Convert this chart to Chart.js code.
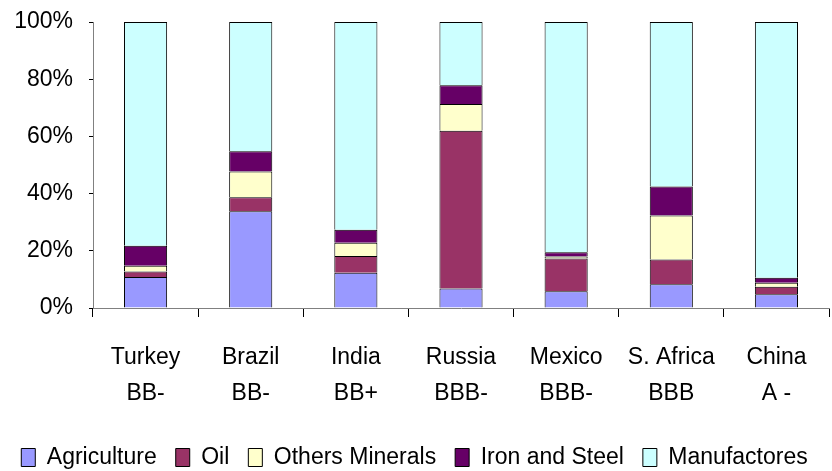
<!DOCTYPE html>
<html>
<head>
<meta charset="utf-8">
<script src="https://cdn.jsdelivr.net/npm/chart.js@4"></script>
<style>
  html, body { margin: 0; padding: 0; background: #fff; }
  #wrap { width: 832px; height: 471px; position: relative; }
</style>
</head>
<body>
<div id="wrap"><canvas id="chart-bars"></canvas></div>
<script>
const countries = [['Turkey', 'BB-'], ['Brazil', 'BB-'], ['India', 'BB+'], ['Russia', 'BBB-'], ['Mexico', 'BBB-'], ['S. Africa', 'BBB'], ['China', 'A -']];

const agriculture = [10.8, 33.8, 12.3, 6.8, 5.9, 8.3, 4.8];
const oil = [2.0, 4.9, 5.9, 55.2, 11.4, 8.7, 2.6];
const otherMinerals = [2.0, 9.0, 4.6, 9.3, 0.7, 15.3, 1.4];
const ironSteel = [7.0, 7.1, 4.6, 6.6, 1.5, 10.2, 1.8];
const manufactures = [78.2, 45.2, 72.6, 22.1, 80.5, 57.5, 89.4];

const yTicks = [0, 20, 40, 60, 80, 100];

const font = "'Liberation Sans', Arial, sans-serif";

document.addEventListener("DOMContentLoaded", function () {

  const ctx = document.getElementById('chart-bars');

  function series(label, data, color) {
    return {
      label: label,
      data: data,
      backgroundColor: color,
      borderColor: '#000000',
      borderWidth: 1,
      barPercentage: 0.41,
      categoryPercentage: 1
    };
  }

  new Chart(ctx, {
    type: 'bar',
    data: {
      labels: countries,
      datasets: [
        series('Agriculture', agriculture, '#9999ff'),
        series('Oil', oil, '#993366'),
        series('Others Minerals', otherMinerals, '#ffffcc'),
        series('Iron and Steel', ironSteel, '#660066'),
        series('Manufactores', manufactures, '#ccffff')
      ]
    },
    options: {
      responsive: true,
      maintainAspectRatio: false,
      animation: false,
      layout: {
        padding: { top: 0, right: 3, left: 0, bottom: -8 }
      },
      scales: {
        x: {
          stacked: true,
          grid: {
            drawOnChartArea: false,
            tickLength: 9,
            color: '#000000'
          },
          border: { color: '#808080', width: 1 },
          ticks: {
            color: '#000000',
            padding: 23,
            font: { family: font, size: 23, lineHeight: 1.55 }
          },
          afterFit: function (scale) { scale.height = 119; }
        },
        y: {
          stacked: true,
          min: 0,
          max: 100,
          afterBuildTicks: function (scale) {
            scale.ticks = yTicks.map(function (v) { return { value: v }; });
          },
          grid: {
            drawOnChartArea: false,
            tickLength: 4,
            color: '#000000'
          },
          border: { color: '#808080', width: 1 },
          ticks: {
            color: '#000000',
            padding: 16,
            font: { family: font, size: 23 },
            callback: function (v) { return v + '%'; }
          },
          afterFit: function (scale) {
            scale.width = 93;
            scale.paddingTop = 22;
            scale.paddingBottom = 0;
          }
        }
      },
      plugins: {
        legend: {
          position: 'bottom',
          labels: {
            color: '#000000',
            boxWidth: 14,
            boxHeight: 18,
            padding: 19,
            font: { family: font, size: 23 }
          }
        },
        tooltip: { enabled: false }
      }
    }
  });

});
</script>
</body>
</html>
